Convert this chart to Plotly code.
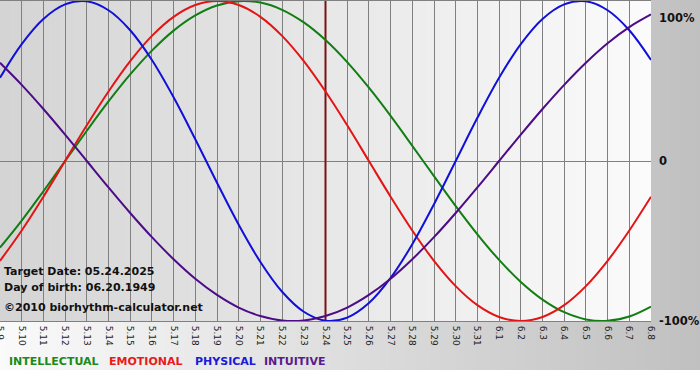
import plotly.graph_objects as go

# ---- data ----
dates = ["5.9", "5.10", "5.11", "5.12", "5.13", "5.14", "5.15", "5.16", "5.17", "5.18",
         "5.19", "5.20", "5.21", "5.22", "5.23", "5.24", "5.25", "5.26", "5.27", "5.28",
         "5.29", "5.30", "5.31", "6.1", "6.2", "6.3", "6.4", "6.5", "6.6", "6.7", "6.8"]

intellectual = [-0.541, -0.372, -0.189, 0.0, 0.189, 0.372, 0.541, 0.690, 0.815, 0.910,
                0.972, 0.999, 0.990, 0.945, 0.866, 0.756, 0.618, 0.458, 0.282, 0.095,
                -0.095, -0.282, -0.458, -0.618, -0.756, -0.866, -0.945, -0.990, -0.999,
                -0.972, -0.910]

emotional = [-0.624, -0.434, -0.223, 0.0, 0.223, 0.434, 0.624, 0.782, 0.901, 0.975,
             1.0, 0.975, 0.901, 0.782, 0.624, 0.434, 0.223, 0.0, -0.223, -0.434,
             -0.624, -0.782, -0.901, -0.975, -1.0, -0.975, -0.901, -0.782, -0.624,
             -0.434, -0.223]

physical = [0.520, 0.731, 0.888, 0.979, 0.998, 0.942, 0.817, 0.631, 0.398, 0.136,
            -0.136, -0.398, -0.631, -0.817, -0.942, -0.998, -0.979, -0.888, -0.731,
            -0.520, -0.270, 0.0, 0.270, 0.520, 0.731, 0.888, 0.979, 0.998, 0.942,
            0.817, 0.631]

intuitive = [0.614, 0.476, 0.325, 0.165, 0.0, -0.165, -0.325, -0.476, -0.614, -0.736,
             -0.837, -0.916, -0.969, -0.997, -0.997, -0.969, -0.916, -0.837, -0.736,
             -0.614, -0.476, -0.325, -0.165, 0.0, 0.165, 0.325, 0.476, 0.614, 0.736,
             0.837, 0.916]

target_date = "5.24"
info_lines = ["Target Date: 05.24.2025", "Day of birth: 06.20.1949",
              "©2010 biorhythm-calculator.net"]
legend_names = ["INTELLECTUAL", "EMOTIONAL", "PHYSICAL", "INTUITIVE"]
y_labels = ["100%", "0", "-100%"]
y_label_vals = [1, 0, -1]

# ---- styles ----
W, H = 700, 380
ML, MR, MT, MB = 0, 49, 1, 59
PW, PH = W - ML - MR, H - MT - MB

line_colors = ["#127d12", "#e41414", "#1010d8", "#4c0c88"]
text_colors = ["#1a8a1a", "#e81a1a", "#1a1ad8", "#5a1a8e"]
FONT = "DejaVu Sans"

x = list(range(len(dates)))
series = [intellectual, emotional, physical, intuitive]

fig = go.Figure()

# target marker line
ti = dates.index(target_date)
fig.add_trace(go.Scatter(x=[ti, ti], y=[-1.05, 1.05], mode="lines",
                         line=dict(color="#7a1212", width=2),
                         hoverinfo="skip", showlegend=False))

for name, vals, col in zip(legend_names, series, line_colors):
    fig.add_trace(go.Scatter(x=x, y=vals, mode="lines", name=name,
                             line=dict(color=col, width=2, shape="spline", smoothing=1.0),
                             hoverinfo="skip", showlegend=False))

shapes = []


def px2paper_x(px):
    return (px - ML) / PW


def py2paper_y(py):
    return (H - MB - py) / PH


# outer background gradient (0..700 px wide, 0..370 px tall)
n_out = 140
for i in range(n_out):
    x0 = i * W / n_out
    x1 = (i + 1) * W / n_out + 0.6
    t = (x0 + W / n_out / 2) / W
    c = round(250 - t * (250 - 192))
    shapes.append(dict(type="rect", xref="paper", yref="paper", layer="below",
                       x0=px2paper_x(x0), x1=px2paper_x(x1),
                       y0=py2paper_y(370), y1=py2paper_y(-2),
                       fillcolor=f"rgb({c},{c},{c})", line=dict(width=0)))
# plot area gradient
n_in = 130
for i in range(n_in):
    x0 = i / n_in
    x1 = (i + 1) / n_in + 0.001
    t = (i + 0.5) / n_in
    c = round(212 + t * (251 - 212))
    shapes.append(dict(type="rect", xref="paper", yref="paper", layer="below",
                       x0=x0, x1=min(x1, 1.0), y0=0, y1=1,
                       fillcolor=f"rgb({c},{c},{c})", line=dict(width=0)))

annotations = []
for lbl, v in zip(y_labels, y_label_vals):
    annotations.append(dict(xref="paper", yref="y", x=1, y=v, xanchor="left",
                            yanchor="top" if v == 1 else "middle",
                            xshift=6, yshift=-8 if v == 1 else 0,
                            text=f"<b>{lbl}</b>", showarrow=False,
                            font=dict(family=FONT, size=11.5, color="#111111")))

info_y = [271, 287, 307]
for txt, py in zip(info_lines, info_y):
    annotations.append(dict(xref="paper", yref="paper", x=0, y=py2paper_y(py),
                            xanchor="left", yanchor="middle", xshift=2,
                            text=f"<b>{txt}</b>", showarrow=False,
                            font=dict(family=FONT, size=11, color="#111111")))

legend_x = [7, 107, 193, 262]
for txt, px, col in zip(legend_names, legend_x, text_colors):
    annotations.append(dict(xref="paper", yref="paper", x=px2paper_x(px), y=py2paper_y(361),
                            xanchor="left", yanchor="middle",
                            text=f"<b>{txt}</b>", showarrow=False,
                            font=dict(family=FONT, size=11, color=col)))

fig.update_layout(
    width=W, height=H,
    margin=dict(l=ML, r=MR, t=MT, b=MB, pad=0, autoexpand=False),
    paper_bgcolor="white",
    plot_bgcolor="rgba(0,0,0,0)",
    shapes=shapes,
    annotations=annotations,
    xaxis=dict(range=[0, len(dates) - 1], tickvals=x, ticktext=dates, tickangle=90,
               showgrid=True, gridcolor="#808080", gridwidth=1,
               showline=True, linecolor="#808080", linewidth=1, mirror=True,
               zeroline=False, ticks="", ticklabelstandoff=2, automargin=False,
               ticklabeloverflow="allow",
               tickfont=dict(family=FONT, size=9, color="#222222"), fixedrange=True),
    yaxis=dict(range=[-1, 1], tickvals=[0], showticklabels=False, automargin=False,
               showgrid=True, gridcolor="#808080", gridwidth=1,
               zeroline=False, showline=False, ticks="", fixedrange=True),
    showlegend=False,
)

fig.write_html("out.html", config={"displayModeBar": False},
               post_script="document.body.style.margin='0';document.body.style.overflow='hidden';")
